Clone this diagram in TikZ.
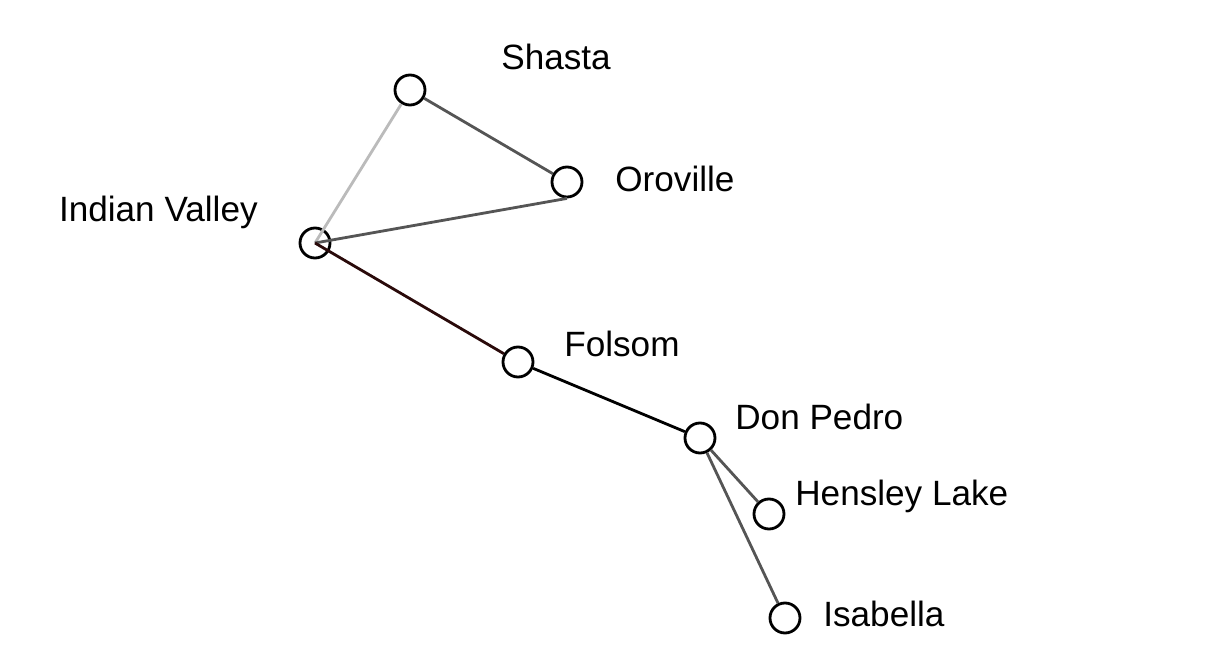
\documentclass[tikz,border=0pt]{standalone}
\usepackage{fontspec}
\setmainfont{Liberation Sans}
\usetikzlibrary{positioning}

\definecolor{edgegray}{HTML}{555555}
\definecolor{edgelight}{HTML}{BBBBBB}
\definecolor{edgedark}{HTML}{2A0A0A}

\begin{document}
\begin{tikzpicture}[x=0.02cm,y=-0.02cm,
  lake/.style={draw,circle,fill=white,line width=1.6pt,minimum size=0.6cm,inner sep=0pt},
  lakename/.style={anchor=base west,inner sep=0pt,font=\fontsize{20}{24}\selectfont},
  link/.style={line width=1.6pt,edgegray}]
  \useasboundingbox (0,0) rectangle (1228,648);

  % --- Reservoirs ---
  \node[lake] (shasta) at (410,90) {};
  \node[lake] (oroville) at (567,182) {};
  \node[lake] (indian) at (315,243) {};
  \node[lake] (folsom) at (518,362) {};
  \node[lake] (donpedro) at (700,438) {};
  \node[lake] (hensley) at (769,514) {};
  \node[lake] (isabella) at (785,618) {};

  % --- Labels ---
  \node[lakename] (shastaL) at (501,70) {Shasta};
  \node[lakename] (orovilleL) at (615,192) {Oroville};
  \node[lakename,anchor=base east] (indianL) at (258,222) {Indian Valley};
  \node[lakename] (folsomL) at (564,357) {Folsom};
  \node[lakename] (donpedroL) at (735,430) {Don Pedro};
  \node[lakename] (hensleyL) at (795,506) {Hensley Lake};
  \node[lakename] (isabellaL) at (823,626) {Isabella};

  % --- Links ---
  \draw[link] (shasta) -- (oroville);
  \draw[link,edgelight] (shasta) -- (indian.center);
  \draw[link] (oroville.south) -- (indian.center);
  \draw[link,edgedark] (indian.center) -- (folsom);
  \draw[link,black] (folsom) -- (donpedro);
  \draw[link] (donpedro) -- (hensley);
  \draw[link] (donpedro) -- (isabella);
\end{tikzpicture}
\end{document}
